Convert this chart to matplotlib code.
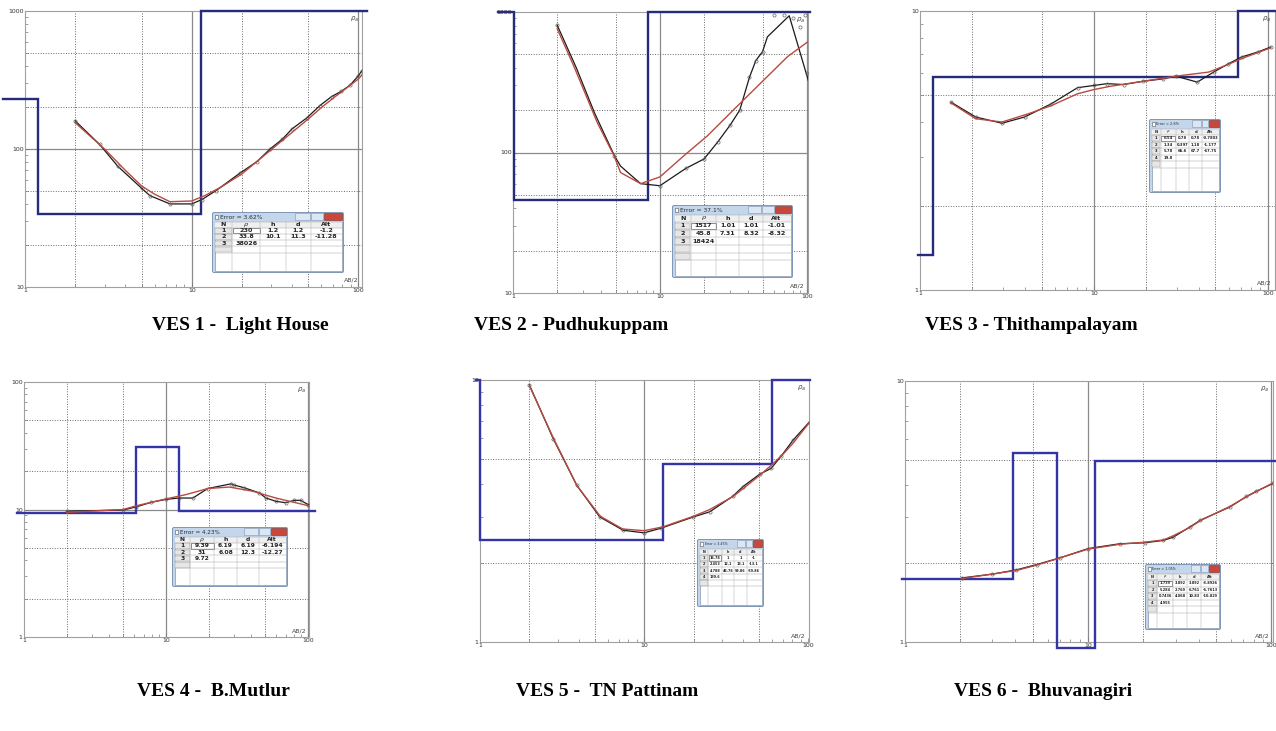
import numpy as np
import matplotlib
matplotlib.use('Agg')
import matplotlib.pyplot as plt
from matplotlib import ticker
from matplotlib.patches import Rectangle, FancyBboxPatch

W, H = 1276, 731

# --- VES 1 - Light House ---
ves1_ab = [2, 2.8, 3.6, 5, 5.6, 7.4, 10, 11.5, 14, 19.5, 24.6, 29.5, 35, 40, 49, 58.6, 69, 79, 89, 100, 105]
ves1_obs = [160, 108, 75, 52, 46, 40, 40, 43, 50, 67, 81, 100, 118, 140, 168, 206, 240, 262, 290, 340, 370]
ves1_fit_ab = [2, 3, 4, 5, 6, 7.4, 10, 12, 15, 20, 30, 40, 50, 60, 70, 80, 100, 105]
ves1_fit = [155, 100, 70, 54, 47, 41.5, 42, 46, 53, 66, 99, 132, 165, 200, 232, 262, 322, 345]
ves1_rho = [230, 33.8, 38026]
ves1_depth = [1.2, 11.3]
ves1_table = [['1', '230', '1.2', '1.2', '-1.2'],
              ['2', '33.8', '10.1', '11.3', '-11.28'],
              ['3', '38026', '', '', '']]

# --- VES 2 - Pudhukuppam ---
ves2_ab = [2, 2.7, 3.6, 4.9, 5.4, 7.4, 10, 15, 20, 24.8, 30, 35, 40.7, 45, 50, 54, 76, 103]
ves2_obs = [805, 400, 190, 95, 80, 60, 58, 77, 90, 119, 156, 200, 342, 451, 522, 666, 940, 320]
ves2_pts_ab = [2, 4.9, 10, 15, 20, 24.8, 30, 35, 40.7, 45, 50, 60, 70, 80, 90, 97, 100]
ves2_pts = [805, 95, 58, 77, 90, 119, 156, 200, 342, 451, 522, 947, 947, 900, 784, 947, 371]
ves2_fit_ab = [2, 2.6, 3.75, 4.87, 5.4, 7.4, 10, 14.6, 21, 32, 48.6, 74, 107]
ves2_fit = [760, 410, 163, 95, 72, 60, 67, 95, 131, 203, 312, 481, 638]
ves2_rho = [1517, 45.8, 18424]
ves2_depth = [1.01, 8.32]
ves2_table = [['1', '1517', '1.01', '1.01', '-1.01'],
              ['2', '45.8', '7.31', '8.32', '-8.32'],
              ['3', '18424', '', '', '']]

# --- VES 3 - Thithampalayam ---
ves3_ab = [1.51, 2.09, 2.96, 4.0, 5.69, 8.05, 10, 11.9, 14.8, 19.2, 24.9, 29.6, 39.3, 48.8, 59.4, 70.6, 87.7, 104]
ves3_obs = [4.71, 4.17, 3.96, 4.17, 4.65, 5.31, 5.41, 5.49, 5.45, 5.60, 5.71, 5.84, 5.56, 6.04, 6.47, 6.84, 7.13, 7.43]
ves3_fit_ab = [1.51, 2.09, 2.96, 4.19, 5.69, 8.05, 10, 12.4, 19.2, 29.6, 45.7, 59.4, 70.6, 104]
ves3_fit = [4.68, 4.11, 4.0, 4.28, 4.58, 5.05, 5.23, 5.37, 5.60, 5.84, 6.04, 6.44, 6.75, 7.38]
ves3_rho = [6.54, 1.34, 5.78, 19.8]
ves3_depth = [0.78, 1.18, 67.7]
ves3_table = [['1', '6.54', '0.78', '0.78', '-0.7803'],
              ['2', '1.34', '0.397', '1.18', '-1.177'],
              ['3', '5.78', '66.6', '67.7', '-67.75'],
              ['4', '19.8', '', '', '']]

# --- VES 4 - B.Mutlur ---
ves4_ab = [2, 5, 6.2, 7.9, 10, 12.3, 15.5, 19.7, 28.8, 30, 35.7, 45.5, 50.8, 59.6, 70, 80, 89, 101]
ves4_obs = [9.7, 9.9, 10.5, 11.4, 12.0, 12.3, 12.3, 14.6, 15.9, 15.6, 14.8, 13.5, 12.3, 11.6, 11.3, 11.8, 11.8, 10.9]
ves4_fit_ab = [2, 5, 6.2, 10, 13.9, 19.7, 28, 41, 59.6, 101]
ves4_fit = [9.5, 10.0, 10.7, 12.1, 13.1, 14.6, 15.0, 13.9, 12.3, 10.7]
ves4_rho = [9.39, 31, 9.72]
ves4_depth = [6.19, 12.3]
ves4_table = [['1', '9.39', '6.19', '6.19', '-6.194'],
              ['2', '31', '6.08', '12.3', '-12.27'],
              ['3', '9.72', '', '', '']]

# --- VES 5 - TN Pattinam ---
ves5_ab = [2, 2.79, 3.88, 5.37, 7.45, 10, 12.7, 19.9, 25.1, 34.7, 40, 50.6, 59.4, 68.5, 80.7, 101.9]
ves5_obs = [9.57, 5.98, 3.97, 3.0, 2.67, 2.61, 2.72, 3.0, 3.14, 3.6, 3.92, 4.37, 4.6, 5.13, 5.89, 6.93]
ves5_fit_ab = [2, 2.8, 3.9, 5.4, 7.4, 10, 13, 20, 25, 35, 50, 60, 70, 80, 102]
ves5_fit = [9.5, 6.0, 3.95, 3.02, 2.7, 2.66, 2.75, 3.02, 3.2, 3.6, 4.3, 4.75, 5.2, 5.7, 6.9]
ves5_rho = [16.78, 2.453, 4.788, 139.6]
ves5_depth = [1, 13.1, 59.86]
ves5_table = [['1', '16.78', '1', '1', '-1'],
              ['2', '2.453', '12.1', '13.1', '-13.1'],
              ['3', '4.788', '46.76', '59.86', '-59.86'],
              ['4', '139.6', '', '', '']]

# --- VES 6 - Bhuvanagiri ---
ves6_ab = [2.04, 3, 4.06, 5.23, 7.0, 10, 14.9, 20.4, 25.7, 29.1, 35.9, 41, 59.3, 73.1, 82.7, 102]
ves6_obs = [1.76, 1.82, 1.89, 1.98, 2.1, 2.28, 2.38, 2.40, 2.45, 2.52, 2.76, 2.93, 3.29, 3.61, 3.78, 4.05]
ves6_fit_ab = [2.04, 4.06, 5.23, 7, 10, 15, 20, 25.7, 29, 36, 41, 59, 73, 102]
ves6_fit = [1.75, 1.88, 1.97, 2.1, 2.27, 2.37, 2.41, 2.46, 2.55, 2.75, 2.92, 3.3, 3.6, 4.07]
ves6_rho = [1.739, 5.284, 0.7436, 4.955]
ves6_depth = [3.892, 6.761, 10.83]
ves6_table = [['1', '1.739', '3.892', '3.892', '-3.8926'],
              ['2', '5.284', '2.769', '6.761', '-6.7613'],
              ['3', '0.7436', '4.068', '10.83', '-10.829'],
              ['4', '4.955', '', '', '']]

captions = ['VES 1 -  Light House', 'VES 2 - Pudhukuppam', 'VES 3 - Thithampalayam',
            'VES 4 -  B.Mutlur', 'VES 5 -  TN Pattinam', 'VES 6 -  Bhuvanagiri']
errors = ['Error = 3.62%', 'Error = 37.1%', 'Error = 2.8%',
          'Error = 4.23%', 'Error = 3.45%', 'Error = 1.05%']

fig = plt.figure(figsize=(W / 100, H / 100), dpi=100)
fig.patch.set_facecolor('white')


def px_axes(l, t, r, b):
    return fig.add_axes([l / W, 1 - b / H, (r - l) / W, (b - t) / H])


def model_line(depth, rho, x0, x1, ylo, yhi):
    cur = rho[0]
    xs, ys = [x0], [None]
    for d, r in zip(depth, rho[1:]):
        if d <= x0:
            cur = r
            continue
        if ys[0] is None:
            ys[0] = cur
        xs += [d, d]
        ys += [cur, r]
        cur = r
    if ys[0] is None:
        ys[0] = cur
    xs.append(x1)
    ys.append(cur)
    return xs, np.clip(ys, ylo, yhi)


def panel(rect, xlim, ylim, ab, obs, fit_ab, fit, depth, rho, x0, x1, blue,
          pts_ab=None, pts=None):
    ax = px_axes(*rect)
    ax.set_xscale('log')
    ax.set_yscale('log')
    ax.set_xlim(xlim)
    ax.set_ylim(ylim)
    # grid: solid decades, dotted 2 and 5
    for lim, fn in [(xlim, ax.axvline), (ylim, ax.axhline)]:
        e0, e1 = int(np.floor(np.log10(lim[0]))), int(np.ceil(np.log10(lim[1])))
        for e in range(e0, e1 + 1):
            v = 10.0 ** e
            if lim[0] * 1.01 < v < lim[1] * 0.99:
                fn(v, color='#8a8a8a', lw=0.9, zorder=1)
            for m in (2, 5):
                if lim[0] < m * v < lim[1] * 0.99:
                    fn(m * v, color='#6a6a6a', lw=0.7, ls=(0, (1, 1.6)), zorder=1)
    mx, my = model_line(depth, rho, x0, x1, ylim[0] / 1.05, ylim[1])
    ax.plot(mx, my, color=blue, lw=1.7, clip_on=False, zorder=3,
            solid_joinstyle='miter')
    ax.plot(ab, obs, color='#1a1a1a', lw=0.9, zorder=4)
    if pts_ab is None:
        pts_ab, pts = ab, obs
    ax.plot(pts_ab, pts, 'o', ms=2.3, mfc='none', mec='#666666', mew=0.5, zorder=4)
    ax.plot(fit_ab, fit, color='#b84a40', lw=1.0, zorder=5)
    for s in ax.spines.values():
        s.set_color('#a0a0a0')
        s.set_linewidth(0.8)
    fmt = ticker.FuncFormatter(lambda v, _: f'{v:g}')
    for axis in (ax.xaxis, ax.yaxis):
        axis.set_major_locator(ticker.LogLocator(base=10))
        axis.set_minor_locator(ticker.LogLocator(base=10, subs=np.arange(2, 10)))
        axis.set_major_formatter(fmt)
        axis.set_minor_formatter(ticker.NullFormatter())
    ax.tick_params(which='both', direction='in', color='#777777', labelsize=4.5,
                   labelcolor='#333333', pad=1, width=0.5)
    ax.tick_params(which='major', length=3)
    ax.tick_params(which='minor', length=2)
    ax.text(0.99, 0.985, r'$\rho_a$', transform=ax.transAxes, fontsize=5,
            ha='right', va='top', color='#444444')
    ax.text(0.99, 0.015, 'AB/2', transform=ax.transAxes, fontsize=4.5,
            ha='right', va='bottom', color='#444444')
    return ax


def error_window(l, t, r, b, title, rows, n_empty, rh, fs):
    w, h = r - l, b - t
    wa = px_axes(l, t, r, b)
    wa.set_xlim(0, w)
    wa.set_ylim(h, 0)
    wa.axis('off')
    wa.add_patch(FancyBboxPatch((0.5, 0.5), w - 1, h - 1,
                                boxstyle='round,pad=0,rounding_size=1.5',
                                fc='#c4d6ec', ec='#7088ab', lw=0.6))
    tb = 9.5
    wa.add_patch(Rectangle((2.5, 2.5), 3.5, 4, fc='white', ec='#555555', lw=0.4))
    wa.text(7.5, tb / 2 + 0.3, title, fontsize=min(fs * 0.95, 4.3), va='center',
            ha='left', color='#2a2a2a')
    bw = w * 0.095
    wa.add_patch(Rectangle((w - 2 - bw * 1.4, 1.2), bw * 1.4, tb - 3,
                           fc='#c9463b', ec='#7a2a22', lw=0.4))
    wa.add_patch(Rectangle((w - 3 - bw * 2.4, 1.2), bw, tb - 3,
                           fc='#dce7f4', ec='#7e93b3', lw=0.4))
    wa.add_patch(Rectangle((w - 4 - bw * 3.6, 1.2), bw * 1.2, tb - 3,
                           fc='#dce7f4', ec='#7e93b3', lw=0.4))
    cx0, cy0, cx1, cy1 = 2.5, tb, w - 2.5, h - 2.5
    wa.add_patch(Rectangle((cx0, cy0), cx1 - cx0, cy1 - cy0, fc='white',
                           ec='#8798ae', lw=0.5))
    fr = np.array([0.14, 0.22, 0.2, 0.2, 0.24])
    edges = cx0 + np.concatenate([[0], np.cumsum(fr)]) * (cx1 - cx0)
    header = ['N', r'$\rho$', 'h', 'd', 'Alt']
    n_rows = 1 + len(rows) + n_empty
    # header row and N column shading
    wa.add_patch(Rectangle((cx0, cy0), cx1 - cx0, rh, fc='#efefef', ec='none'))
    for i in range(1, n_rows):
        wa.add_patch(Rectangle((edges[0] + 0.5, cy0 + i * rh + 0.4),
                               edges[1] - edges[0] - 1, rh - 0.8,
                               fc='#e6e6e6', ec='#9a9a9a', lw=0.3))
    for i in range(n_rows + 1):
        wa.plot([cx0, cx1], [cy0 + i * rh] * 2, color='#a8a8a8', lw=0.35)
    for e in edges[1:-1]:
        wa.plot([e, e], [cy0, cy1], color='#b0b0b0', lw=0.35)
    for j, txt in enumerate(header):
        wa.text((edges[j] + edges[j + 1]) / 2, cy0 + rh / 2, txt, fontsize=fs,
                ha='center', va='center', fontweight='bold', color='#222222')
    for i, row in enumerate(rows):
        yc = cy0 + (i + 1.5) * rh
        for j, txt in enumerate(row):
            wa.text((edges[j] + edges[j + 1]) / 2, yc, txt, fontsize=fs,
                    ha='center', va='center', fontweight='bold', color='#222222')
    wa.add_patch(Rectangle((edges[1] + 0.6, cy0 + rh + 0.5), edges[2] - edges[1] - 1.2,
                           rh - 1, fc='none', ec='#333333', lw=0.4))


navy = '#262b7c'
violet = '#3434a6'

panel((25, 11, 362, 287), (1, 105), (10, 1000), ves1_ab, ves1_obs, ves1_fit_ab,
      ves1_fit, ves1_depth, ves1_rho, 0.74, 113, navy)
panel((513, 12, 808, 293), (1, 102), (10, 1000), ves2_ab, ves2_obs, ves2_fit_ab,
      ves2_fit, ves2_depth, ves2_rho, 0.79, 105, navy, ves2_pts_ab, ves2_pts)
panel((920, 11, 1275, 290), (1, 110), (1, 10), ves3_ab, ves3_obs, ves3_fit_ab,
      ves3_fit, ves3_depth, ves3_rho, 0.98, 112, navy)
panel((24, 382, 309, 637), (1, 102), (1, 100), ves4_ab, ves4_obs, ves4_fit_ab,
      ves4_fit, ves4_depth, ves4_rho, 0.89, 112, violet)
panel((480, 380, 809, 642), (1, 101), (1, 10), ves5_ab, ves5_obs, ves5_fit_ab,
      ves5_fit, ves5_depth, ves5_rho, 0.95, 103, violet)
panel((905, 381, 1273, 642), (1, 102), (1, 10), ves6_ab, ves6_obs, ves6_fit_ab,
      ves6_fit, ves6_depth, ves6_rho, 0.96, 108, violet)

error_window(212, 212, 344, 273, errors[0], ves1_table, 1, 6.2, 4.6)
error_window(672, 205, 793, 278, errors[1], ves2_table, 2, 7.6, 4.6)
error_window(1149, 119, 1221, 193, errors[2], ves3_table, 1, 6.5, 2.7)
error_window(172, 527, 288, 587, errors[3], ves4_table, 1, 6.3, 4.3)
error_window(697, 539, 764, 607, errors[4], ves5_table, 1, 6.3, 2.45)
error_window(1145, 564, 1221, 630, errors[5], ves6_table, 1, 6.5, 2.55)

cap_pos = [(240, 325), (571, 325), (1031, 325), (213, 692), (607, 692), (1043, 692)]
for (cx, cy), txt in zip(cap_pos, captions):
    fig.text(cx / W, 1 - cy / H, txt, ha='center', va='center', fontsize=14,
             fontweight='bold', family=['Liberation Serif', 'DejaVu Serif'])

fig.savefig('out.png', dpi=100)
